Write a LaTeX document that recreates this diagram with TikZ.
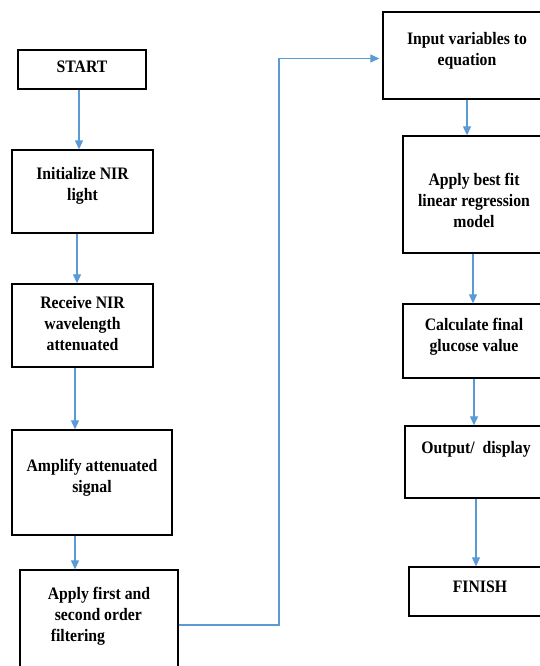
\documentclass[tikz,border=0pt]{standalone}
\usepackage{fontspec}
\setmainfont[FakeStretch=0.9]{Liberation Serif}
\usetikzlibrary{arrows.meta}
\definecolor{flowblue}{RGB}{91,155,213}

\begin{document}
\begin{tikzpicture}[
    x=1pt, y=-1pt,
    box/.style={rectangle, draw=black, line width=1.3pt, inner sep=0pt},
    txt/.style={font=\bfseries\fontsize{17.5}{21}\selectfont, align=center, inner sep=0pt},
    arrow/.style={-{Triangle[length=9pt, width=8pt]}, line width=1.1pt, draw=flowblue}
]
    \useasboundingbox (0,0) rectangle (539,666);

    \newcommand{\flowbox}[7]{
        \node[box, minimum width={#4-#2}, minimum height={#5-#3}] (#1) at ({(#2+#4)/2}, {(#3+#5)/2}) {};
        \node[txt] (#1t) at ({(#2+#4)/2}, #6) {#7};
    }

    % --- LEFT COLUMN ---
    \flowbox{start}{18}{50}{146}{89}{67}{START}
    \flowbox{init}{12}{150}{153}{233}{186}{Initialize NIR\\light}
    \flowbox{recv}{12}{284}{153}{367}{324}{Receive NIR\\wavelength\\attenuated}
    \flowbox{amp}{12}{430}{172}{535}{478}{Amplify attenuated\\signal}
    \flowbox{filt}{20}{570}{178}{680}{616}{}
    \node[txt, align=left] (filtt) at (99, 616) {Apply first and\\\hspace{7pt}second order\\\hspace{3pt}filtering};

    % --- RIGHT COLUMN ---
    \flowbox{inp}{383}{12}{551}{99}{51}{Input variables to\\equation}
    \flowbox{fit}{403}{136}{545}{253}{200}{Apply best fit\\linear regression\\model}
    \flowbox{calc}{403}{304}{545}{378}{337}{Calculate final\\glucose value}
    \flowbox{out}{405}{426}{547}{498}{449}{Output/\ \ display}
    \flowbox{fin}{409}{567}{551}{616}{587}{FINISH}

    % Arrows
    \draw[arrow] ([xshift=-3pt]start.south) -- ([xshift=-3pt]start.south |- init.north);
    \draw[arrow] ([xshift=-5.5pt]init.south) -- ([xshift=-5.5pt]init.south |- recv.north);
    \draw[arrow] ([xshift=-7.5pt]recv.south) -- ([xshift=-7.5pt]recv.south |- amp.north);
    \draw[arrow] ([xshift=-17pt]amp.south) -- ([xshift=-17pt]amp.south |- filt.north);

    \coordinate (bend) at (279,0);
    \draw[arrow] (filt.east) -- (filt.east -| bend) |- ([xshift=-3pt, yshift=-3pt]inp.west);

    \draw[arrow] (inp.south) -- (inp.south |- fit.north);
    \draw[arrow] ([xshift=-1pt]fit.south) -- ([xshift=-1pt]fit.south |- calc.north);
    \draw[arrow] (calc.south) -- (calc.south |- out.north);
    \draw[arrow] (out.south) -- (out.south |- fin.north);
\end{tikzpicture}
\end{document}
